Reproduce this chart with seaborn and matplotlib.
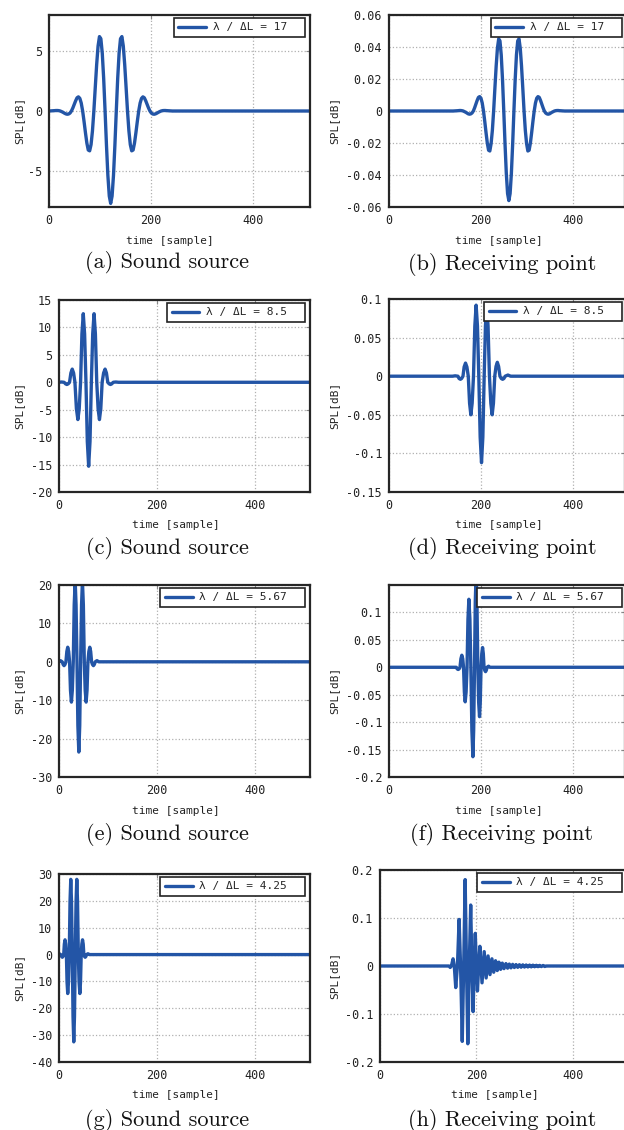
import numpy as np
import pandas as pd
import matplotlib
matplotlib.use('Agg')
import matplotlib.pyplot as plt
import seaborn as sns

# ===============================
# DATA
# ===============================
# (a) sound source, lambda/dL = 17
t_a = [0, 11, 13.75, 16.5, 19.25, 22, 24.75, 27.5, 30.25, 33, 35.75, 38.5, 41.25, 44,
       46.75, 49.5, 52.25, 55, 57.75, 60.5, 63.25, 66, 68.75, 71.5, 74.25, 77, 79.75,
       82.5, 85.25, 88, 90.75, 93.5, 96.25, 99, 101.75, 104.5, 107.25, 110, 112.75,
       115.5, 118.25, 121, 123.75, 126.5, 129.25, 132, 134.75, 137.5, 140.25, 143,
       145.75, 148.5, 151.25, 154, 156.75, 159.5, 162.25, 165, 167.75, 170.5, 173.25,
       176, 178.75, 181.5, 184.25, 187, 189.75, 192.5, 195.25, 198, 200.75, 203.5,
       206.25, 209, 211.75, 214.5, 217.25, 220, 222.75, 225.5, 228.25, 231, 242, 512]
v_a = [0.0, 0.03, 0.04, 0.04, 0.03, 0.0, -0.05, -0.11, -0.18, -0.24, -0.27, -0.25,
       -0.17, 0.0, 0.25, 0.55, 0.85, 1.1, 1.18, 1.05, 0.66, 0.0, -0.87, -1.81, -2.67,
       -3.25, -3.32, -2.8, -1.66, 0.0, 1.96, 3.87, 5.41, 6.2, 6.02, 4.81, 2.71, 0.0,
       -2.86, -5.37, -7.09, -7.7, -7.09, -5.37, -2.86, 0.0, 2.71, 4.81, 6.02, 6.2, 5.41,
       3.87, 1.96, 0.0, -1.66, -2.8, -3.32, -3.25, -2.67, -1.81, -0.87, 0.0, 0.66, 1.05,
       1.18, 1.1, 0.85, 0.55, 0.25, 0.0, -0.17, -0.25, -0.27, -0.24, -0.18, -0.11,
       -0.05, 0.0, 0.03, 0.04, 0.04, 0.03, 0.0, 0.0]

# (b) receiving point, lambda/dL = 17
t_b = [0, 139, 150, 152.75, 155.5, 158.25, 161, 163.75, 166.5, 169.25, 172, 174.75,
       177.5, 180.25, 183, 185.75, 188.5, 191.25, 194, 196.75, 199.5, 202.25, 205,
       207.75, 210.5, 213.25, 216, 218.75, 221.5, 224.25, 227, 229.75, 232.5, 235.25,
       238, 240.75, 243.5, 246.25, 249, 251.75, 254.5, 257.25, 260, 262.75, 265.5,
       268.25, 271, 273.75, 276.5, 279.25, 282, 284.75, 287.5, 290.25, 293, 295.75,
       298.5, 301.25, 304, 306.75, 309.5, 312.25, 315, 317.75, 320.5, 323.25, 326,
       328.75, 331.5, 334.25, 337, 339.75, 342.5, 345.25, 348, 350.75, 353.5, 356.25,
       359, 361.75, 364.5, 367.25, 370, 381, 512]
v_b = [0.0, 0.0, 0.0002, 0.0003, 0.0003, 0.0002, 0.0, -0.0004, -0.0008, -0.0013,
       -0.0018, -0.002, -0.0018, -0.0012, 0.0, 0.002, 0.0043, 0.0066, 0.0085, 0.009,
       0.008, 0.005, 0.0, -0.0065, -0.0135, -0.02, -0.0245, -0.025, -0.0204, -0.0121,
       0.0, 0.0143, 0.0281, 0.0393, 0.0451, 0.0438, 0.035, 0.0197, 0.0, -0.0208,
       -0.039, -0.0516, -0.056, -0.0516, -0.039, -0.0208, 0.0, 0.0197, 0.035, 0.0438,
       0.0451, 0.0393, 0.0281, 0.0143, 0.0, -0.0121, -0.0204, -0.025, -0.0245, -0.02,
       -0.0135, -0.0065, 0.0, 0.005, 0.008, 0.009, 0.0085, 0.0066, 0.0043, 0.002, 0.0,
       -0.0012, -0.0018, -0.002, -0.0018, -0.0013, -0.0008, -0.0004, 0.0, 0.0002,
       0.0003, 0.0003, 0.0002, 0.0, 0.0]

# (c) sound source, lambda/dL = 8.5
t_c = [0, 5, 10.5, 13.25, 16, 18.75, 21.5, 24.25, 27, 29.75, 32.5, 35.5, 38.5, 41.25,
       44, 46.75, 49.5, 52.25, 55, 57.75, 60.5, 63.25, 66, 68.75, 71.5, 74.25, 77,
       79.75, 82.5, 85.25, 88, 91, 94, 96.75, 99.5, 102.25, 105, 107.75, 110.5, 116,
       121.5, 512]
v_c = [0.0, 0.05, 0.0, -0.28, -0.4, -0.28, 0.0, 1.7, 2.4, 1.7, 0.0, -4.8, -6.8, -4.8,
       0.0, 8.8, 12.5, 8.8, 0.0, -10.8, -15.3, -10.8, 0.0, 8.8, 12.5, 8.8, 0.0, -4.8,
       -6.8, -4.8, 0.0, 1.7, 2.4, 1.7, 0.0, -0.28, -0.4, -0.28, 0.0, 0.05, 0.0, 0.0]

# (d) receiving point, lambda/dL = 8.5
t_d = [0, 138, 143.5, 149.5, 152, 155, 157.5, 160.5, 163, 166, 169, 172, 174.8, 177.6,
       180.4, 183.3, 186.2, 189, 191.9, 194.8, 197.8, 200.7, 203.6, 206.5, 209.2, 212,
       214.9, 217.9, 220.9, 223.8, 226.6, 229.4, 232.2, 235, 237.8, 240.7, 243.6,
       246.5, 249.3, 252, 258, 264, 512]
v_d = [0.0, 0.0, 0.0005, 0.0, -0.003, -0.004, -0.003, 0.0, 0.012, 0.017, 0.012, 0.0,
       -0.035, -0.05, -0.035, 0.0, 0.065, 0.092, 0.065, 0.0, -0.079, -0.112, -0.079,
       0.0, 0.065, 0.092, 0.065, 0.0, -0.035, -0.05, -0.035, 0.0, 0.0127, 0.018,
       0.0127, 0.0, -0.003, -0.004, -0.003, 0.0, 0.0015, 0.0, 0.0]

# (e) sound source, lambda/dL = 5.67
t_e = [0, 3, 6.6, 8.5, 10.3, 12.2, 14.1, 16, 17.8, 19.7, 21.6, 23.4, 25.3, 27.2, 29.1,
       31, 33, 34.8, 36.7, 38.5, 40.4, 42.3, 44.1, 46, 47.8, 49.7, 51.6, 53.4, 55.3,
       57.2, 59, 60.9, 62.8, 64.6, 66.5, 68.3, 70.2, 72, 73.9, 77.5, 81, 512]
v_e = [0.0, 0.3, 0.0, -0.7, -1.0, -0.7, 0.0, 2.7, 3.8, 2.7, 0.0, -7.4, -10.5, -7.4, 0.0,
       14.8, 21.0, 14.8, 0.0, -16.6, -23.5, -16.6, 0.0, 14.8, 21.0, 14.8, 0.0, -7.4,
       -10.5, -7.4, 0.0, 2.7, 3.8, 2.7, 0.0, -0.7, -1.0, -0.7, 0.0, 0.3, 0.0, 0.0]

# (f) receiving point, lambda/dL = 5.67
t_f = [0, 146, 148, 150, 152, 154, 156, 158, 160, 161.7, 163.5, 165.3, 167.3, 169.3,
       171.3, 173.3, 175.5, 177.6, 179.8, 182, 183.7, 185.5, 187.2, 189, 190.8, 192.7,
       194.5, 196.4, 198, 199.7, 201.3, 203, 204.6, 206.2, 207.8, 209.4, 211, 212.7,
       216, 219, 512]
v_f = [0.0, 0.0, -0.003, -0.004, -0.003, 0.0, 0.0155, 0.022, 0.0155, 0.0, -0.045,
       -0.063, -0.045, 0.0, 0.088, 0.124, 0.088, 0.0, -0.115, -0.163, -0.115, 0.0, 0.12,
       0.17, 0.12, 0.0, -0.064, -0.09, -0.064, 0.0, 0.025, 0.036, 0.025, 0.0, -0.0057,
       -0.008, -0.0057, 0.0, 0.002, 0.0, 0.0]

# (g) sound source, lambda/dL = 4.25
t_g = [0, 1.5, 3.6, 5.2, 6.8, 8.2, 9.6, 10.9, 12.3, 13.7, 15.1, 16.4, 17.8, 19.4, 20.9,
       22.5, 24, 25.5, 27.1, 28.6, 30.1, 31.6, 33.2, 34.8, 36.3, 37.8, 39.4, 40.9,
       42.5, 43.9, 45.3, 46.6, 48, 49.4, 50.7, 52, 53.4, 54.8, 56.2, 59, 62, 512]
v_g = [0.0, 0.2, 0.0, -0.7, -1.0, -0.7, 0.0, 3.9, 5.5, 3.9, 0.0, -10.2, -14.5, -10.2,
       0.0, 19.8, 28.0, 19.8, 0.0, -23.0, -32.5, -23.0, 0.0, 19.8, 28.0, 19.8, 0.0,
       -10.2, -14.5, -10.2, 0.0, 3.9, 5.5, 3.9, 0.0, -0.7, -1.0, -0.7, 0.0, 0.3, 0.0,
       0.0]

# (h) receiving point, lambda/dL = 4.25 (long ringing tail)
t_h = [0, 143, 145.5, 148, 151.5, 154, 157, 160.5, 164, 167, 170.5, 173.5, 176.5,
       179.3, 182, 185, 188, 190.5, 193, 195.3, 197.5, 199.8, 202, 204.5, 207, 211.5,
       216, 220, 224, 228, 232, 235.7, 239.5, 243, 246.5, 250, 253.5, 257, 261, 264.5,
       268, 271.5, 275, 278.5, 282, 285.5, 289, 292.5, 296, 299.5, 303, 306.5, 310,
       313.5, 317, 320.5, 324, 327.5, 331, 334.5, 338, 341.5, 345, 512]
v_h = [0.0, 0.0, -0.003, 0.0, 0.015, 0.0, -0.045, 0.0, 0.097, 0.0, -0.157, 0.0, 0.18,
       0.0, -0.162, 0.0, 0.127, 0.0, -0.095, 0.0, 0.068, 0.0, -0.052, 0.0, 0.041,
       -0.035, 0.03, -0.025, 0.021, -0.018, 0.015, -0.013, 0.011, -0.0095, 0.008,
       -0.007, 0.006, -0.0055, 0.005, -0.0045, 0.004, -0.0038, 0.0035, -0.0032, 0.003,
       -0.0028, 0.0027, -0.0025, 0.0024, -0.0022, 0.0021, -0.002, 0.0019, -0.0018,
       0.0017, -0.0016, 0.0015, -0.0014, 0.0013, -0.0012, 0.0011, -0.001, 0.0, 0.0]

ratios = ['17', '17', '8.5', '8.5', '5.67', '5.67', '4.25', '4.25']
captions = ['(a) Sound source', '(b) Receiving point',
            '(c) Sound source', '(d) Receiving point',
            '(e) Sound source', '(f) Receiving point',
            '(g) Sound source', '(h) Receiving point']
ylims = [(-8, 8), (-0.06, 0.06), (-20, 15), (-0.15, 0.1),
         (-30, 20), (-0.2, 0.15), (-40, 30), (-0.2, 0.2)]
yticks = [[-5, 0, 5],
          [-0.06, -0.04, -0.02, 0, 0.02, 0.04, 0.06],
          [-20, -15, -10, -5, 0, 5, 10, 15],
          [-0.15, -0.1, -0.05, 0, 0.05, 0.1],
          [-30, -20, -10, 0, 10, 20],
          [-0.2, -0.15, -0.1, -0.05, 0, 0.05, 0.1],
          [-40, -30, -20, -10, 0, 10, 20, 30],
          [-0.2, -0.1, 0, 0.1, 0.2]]
xticks = [0, 200, 400]
series = [(t_a, v_a), (t_b, v_b), (t_c, v_c), (t_d, v_d),
          (t_e, v_e), (t_f, v_f), (t_g, v_g), (t_h, v_h)]

# ===============================
# LAYOUT (pixel boxes: left, top, right, bottom)
# ===============================
W, H = 624, 1130
boxes = [(49, 15, 310, 207), (389, 15, 625, 207),
         (59, 300, 310, 492), (389, 299, 625, 492),
         (59, 585, 310, 777), (389, 585, 625, 777),
         (59, 874, 310, 1062), (380, 870, 627, 1062)]
cap_xy = [(167, 263), (502, 265), (167, 548), (502, 548),
          (167, 835), (502, 834), (167, 1120), (502, 1120)]

LINE = '#2355a6'
MONO = 'DejaVu Sans Mono'

sns.set_style('white')
plt.rcParams['font.family'] = [MONO, 'DejaVu Sans']
plt.rcParams['axes.unicode_minus'] = False

fig = plt.figure(figsize=(W / 100, H / 100), dpi=100)

for i, ((t, v), (L, T, R, B)) in enumerate(zip(series, boxes)):
    ax = fig.add_axes([L / W, 1 - B / H, (R - L) / W, (B - T) / H])
    df = pd.DataFrame({'time': t, 'SPL': v})
    sns.lineplot(data=df, x='time', y='SPL', ax=ax, color=LINE, linewidth=2.4,
                 estimator=None, label=f'λ / ΔL = {ratios[i]}  ')

    ax.set_xlim(0, 512)
    ax.set_ylim(*ylims[i])
    ax.set_xticks(xticks, [f'{x:g}' for x in xticks])
    ax.set_yticks(yticks[i], [f'{y:g}' for y in yticks[i]])
    ax.grid(True, linestyle=':', color='#b0b0b0', linewidth=0.9)
    ax.set_axisbelow(True)
    for s in ax.spines.values():
        s.set_color('#262626')
        s.set_linewidth(1.6)
    ax.tick_params(axis='both', direction='in', length=3, width=0.8, color='#888888',
                   labelsize=8.5, labelcolor='#222222', top=True, right=True)
    ax.tick_params(axis='y', pad=5)
    ax.tick_params(axis='x', pad=5)

    w_px, h_px = R - L, B - T
    ax.set_xlabel('time [sample]', fontsize=8, color='#222222')
    ax.xaxis.set_label_coords(0.464, -33.5 / h_px)
    ax.xaxis.label.set_va('center')
    ax.set_ylabel('SPL[dB]', fontsize=8, color='#222222')
    ylab_px = 19 if i % 2 == 0 else 334
    ax.yaxis.set_label_coords((ylab_px - L) / w_px, 0.45)
    ax.yaxis.label.set_va('center')

    leg_right = 305 if i % 2 == 0 else 622
    leg = ax.legend(loc='upper right',
                    bbox_to_anchor=((leg_right - L) / w_px, 1 - 3 / h_px),
                    borderaxespad=0, fancybox=False, framealpha=1,
                    edgecolor='#222222', handlelength=2.5, handletextpad=0.6,
                    borderpad=0.4, prop={'family': MONO, 'size': 8})
    leg.get_frame().set_linewidth(1.2)

    cx, cy = cap_xy[i]
    fig.text(cx / W, 1 - cy / H, captions[i], family='cmr10', fontsize=16,
             ha='center', va='center', color='#111111')

fig.savefig('out.png', dpi=100)
